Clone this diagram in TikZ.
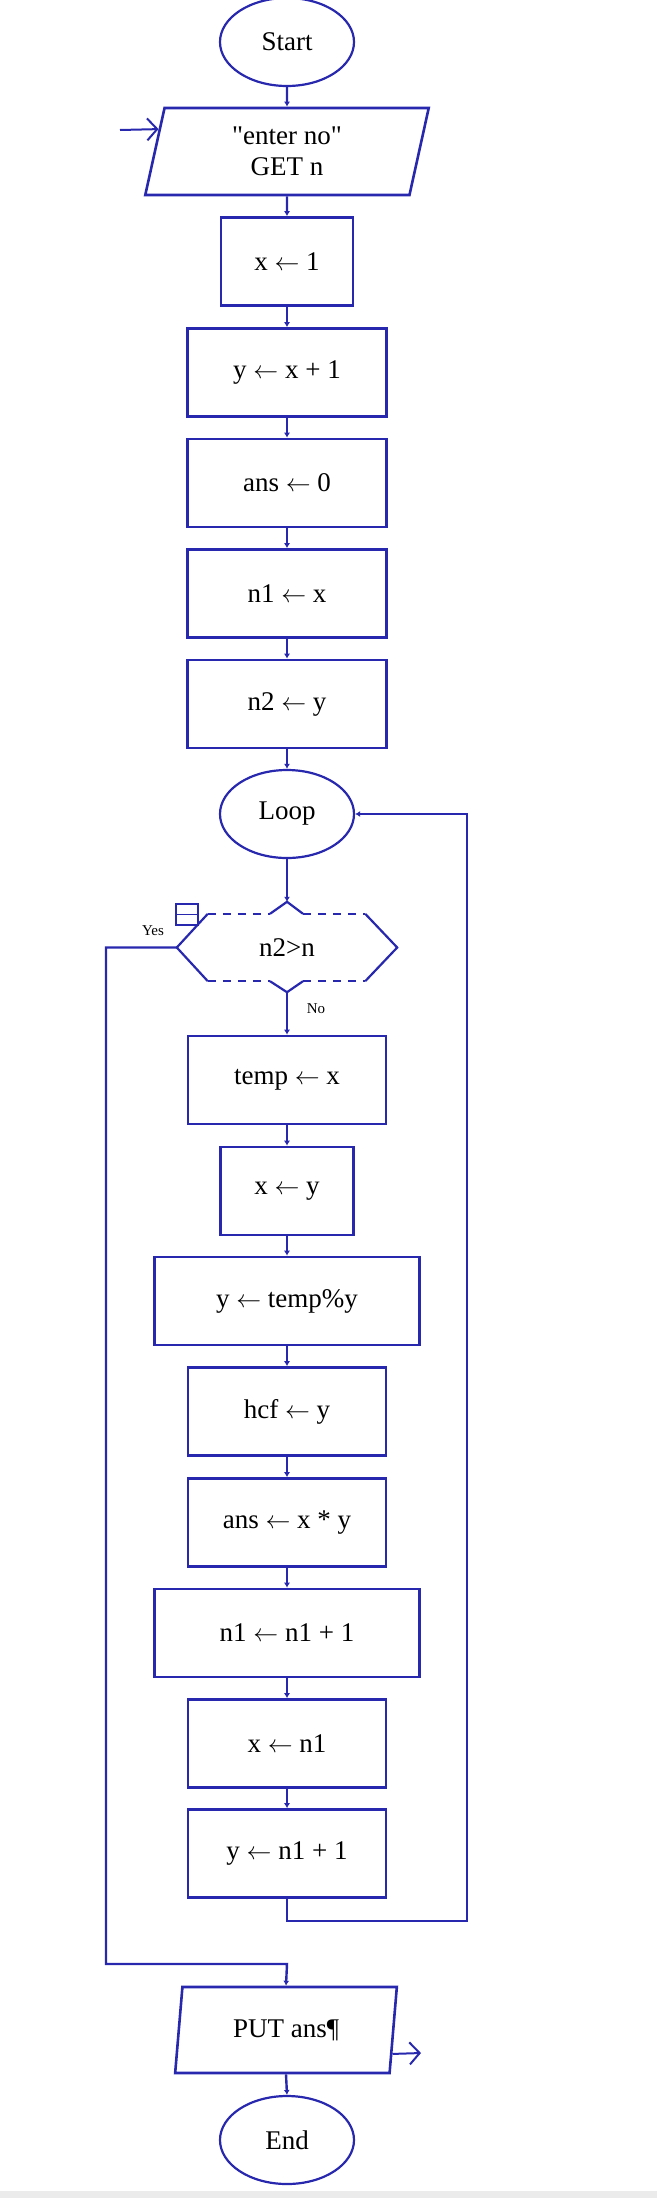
\documentclass[tikz,border=0pt]{standalone}
\usepackage{fontspec}
\setmainfont{Liberation Serif}
\usetikzlibrary{shapes.geometric,arrows.meta,calc}
\definecolor{rapblue}{RGB}{40,40,175}
\tikzset{
    every node/.style={font=\fontsize{27}{31}\selectfont},
    proc/.style={draw=rapblue,line width=2.6pt,minimum height=88pt,inner sep=0pt},
    term/.style={ellipse,draw=rapblue,line width=2.2pt,minimum width=134pt,minimum height=88pt,inner sep=0pt},
    io/.style={trapezium,trapezium left angle=80,trapezium right angle=100,trapezium stretches=true,
        draw=rapblue,line width=2.6pt,inner sep=0pt,align=center},
    link/.style={rapblue,line width=2.4pt,-{Latex[length=5pt,width=6pt]}},
    barb/.style={rapblue,line width=2pt,-{Straight Barb[length=10pt,width=22pt]}},
    tag/.style={font=\fontsize{15}{17}\selectfont}
}

\begin{document}
\begin{tikzpicture}[x=1pt,y=-1pt]
    \colorlet{fc}{rapblue}
    \useasboundingbox (0,0) rectangle (657,2198);
    \fill [black!8] (0,2191) rectangle (657,2198);

    \node[term] (start) at (287,42) {Start};
    \node[io,minimum width=284pt,minimum height=87pt] (get) at (287,151.5) {\textquotedbl enter no\textquotedbl\\GET n};
    \foreach \nm/\yy/\ww/\txt in {
        x1/261.5/132/{x $\leftarrow$ 1},
        yx1/372.5/199/{y $\leftarrow$ x + 1},
        ans0/483/199/{ans $\leftarrow$ 0},
        nx/593.5/199/{n1 $\leftarrow$ x},
        ny/704/199/{n2 $\leftarrow$ y},
        tmp/1080/198/{temp $\leftarrow$ x},
        xy/1191/133/{x $\leftarrow$ y},
        ytmp/1301/265/{y $\leftarrow$ temp\%y},
        hcf/1411.5/198/{hcf $\leftarrow$ y},
        ansxy/1522.5/198/{ans $\leftarrow$ x * y},
        ninc/1633/265/{n1 $\leftarrow$ n1 + 1},
        xn/1743.5/198/{x $\leftarrow$ n1},
        yn/1853.5/198/{y $\leftarrow$ n1 + 1}} {
        \node[proc,minimum width=\ww pt] (\nm) at (287,\yy) {\txt};
    }
    \node[term] (loop) at (287,814) {Loop};
    \node[minimum width=220pt,minimum height=67pt,inner sep=0pt] (dec) at (287,947.5) {n2>n};
    \node[io,minimum width=222pt,minimum height=86pt] (put) at (286,2030) {PUT ans¶};
    \node[term] (stop) at (287,2140) {End};

    % decision outline
    \coordinate (dectop) at ([yshift=12pt]dec.north);
    \coordinate (decbot) at ([yshift=-11pt]dec.south);
    \draw [fc,line width=2.2pt] ([xshift=31pt]dec.north west) -- (dec.west) -- ([xshift=31pt]dec.south west);
    \draw [fc,line width=2.2pt] ([xshift=-32pt]dec.north east) -- (dec.east) -- ([xshift=-32pt]dec.south east);
    \draw [fc,line width=2.2pt,dash pattern=on 8pt off 7pt]
        ([xshift=31pt]dec.north west) -- ([xshift=-17pt]dec.north)
        ([xshift=16pt]dec.north) -- ([xshift=-32pt]dec.north east)
        ([xshift=31pt]dec.south west) -- ([xshift=-17pt]dec.south)
        ([xshift=16pt]dec.south) -- ([xshift=-32pt]dec.south east);
    \draw [fc,line width=2.2pt] ([xshift=-17pt]dec.north) -- (dectop) -- ([xshift=16pt]dec.north);
    \draw [fc,line width=2.2pt] ([xshift=-17pt]dec.south) -- (decbot) -- ([xshift=16pt]dec.south);
    \draw [fc,line width=1.8pt,fill=white] (176,904) rectangle (198,925);
    \draw [fc,line width=1.8pt] (176,914.5) -- (198,914.5);
    \node[tag] (yes) at (153,931) {Yes};
    \node[tag] (no) at (316,1009) {No};

    \foreach \a/\b in {start/get,get/x1,x1/yx1,yx1/ans0,ans0/nx,nx/ny,ny/loop,
        tmp/xy,xy/ytmp,ytmp/hcf,hcf/ansxy,ansxy/ninc,ninc/xn,xn/yn,put/stop} {
        \draw[link] (\a.south) -- (\b.north);
    }
    \draw[link] (loop.south) -- (dectop);
    \draw[link] (decbot) -- (tmp.north);
    \draw[link] (yn.south) |- ++(180,22) |- (loop.east);
    \draw[link] (dec.west) -| (106,1964) -- (287,1964) -- (put.north);

    \coordinate (inarr) at (120,130);
    \coordinate (outarr) at (421,2053);
    \draw[barb] (inarr) -- ($(get.top left corner)!0.25!(get.bottom left corner)$);
    \draw[barb] ($(put.top right corner)!0.77!(put.bottom right corner)$) -- (outarr);
\end{tikzpicture}
\end{document}
